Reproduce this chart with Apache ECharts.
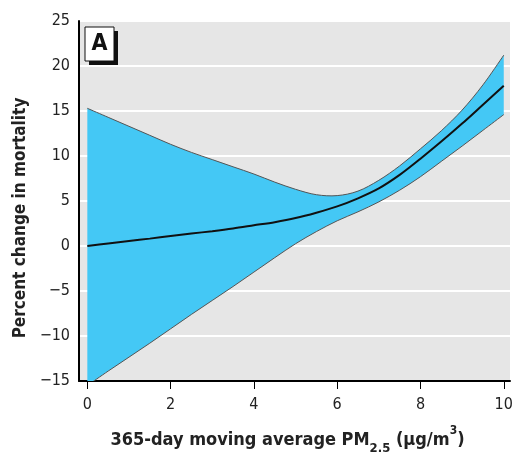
<!DOCTYPE html>
<html>
<head>
<meta charset="utf-8">
<script src="https://cdn.jsdelivr.net/npm/echarts@6/dist/echarts.min.js"></script>
<style>
html,body{margin:0;padding:0;background:#fff;}
#chart{width:514px;height:452px;}
</style>
</head>
<body>
<div id="chart"></div>
<script>
const xValues = [0, 0.5, 1, 1.5, 2, 2.5, 3, 3.5, 4, 4.5, 5, 5.5, 6, 6.5, 7, 7.5, 8, 8.5, 9, 9.5, 10];
const upperCI = [15.3, 14.3, 13.3, 12.3, 11.3, 10.4, 9.6, 8.8, 8.0, 7.1, 6.3, 5.7, 5.6, 6.1, 7.3, 8.9, 10.8, 12.8, 15.1, 17.9, 21.2];
const estimate = [0, 0.28, 0.55, 0.82, 1.1, 1.38, 1.65, 1.95, 2.3, 2.65, 3.1, 3.7, 4.4, 5.3, 6.4, 7.9, 9.7, 11.6, 13.6, 15.7, 17.8];
const lowerCI = [-15.5, -13.9, -12.35, -10.8, -9.2, -7.6, -6.05, -4.5, -2.9, -1.3, 0.25, 1.6, 2.8, 3.8, 4.9, 6.2, 7.7, 9.4, 11.1, 12.85, 14.6];
const xTicks = [0, 2, 4, 6, 8, 10];

const font = '"DejaVu Sans Condensed", "Liberation Sans Narrow", sans-serif';

// Catmull-Rom spline through pixel points -> SVG path segments (after an initial point)
function splineSegs(pts) {
  let d = '';
  for (let i = 0; i < pts.length - 1; i++) {
    const p0 = pts[Math.max(0, i - 1)], p1 = pts[i], p2 = pts[i + 1], p3 = pts[Math.min(pts.length - 1, i + 2)];
    const c1x = p1[0] + (p2[0] - p0[0]) / 6, c1y = p1[1] + (p2[1] - p0[1]) / 6;
    const c2x = p2[0] - (p3[0] - p1[0]) / 6, c2y = p2[1] - (p3[1] - p1[1]) / 6;
    d += ' C' + c1x + ' ' + c1y + ' ' + c2x + ' ' + c2y + ' ' + p2[0] + ' ' + p2[1];
  }
  return d;
}

const bandData = xValues.map((x, i) => [x, lowerCI[i], upperCI[i]]);

function renderBand(params, api) {
  if (params.dataIndex !== 0) return null;
  const up = xValues.map((x, i) => api.coord([x, upperCI[i]]));
  const lo = xValues.map((x, i) => api.coord([x, lowerCI[i]]));
  const loRev = lo.slice().reverse();
  const fillPath = 'M' + up[0][0] + ' ' + up[0][1] + splineSegs(up) +
    ' L' + loRev[0][0] + ' ' + loRev[0][1] + splineSegs(loRev) + ' Z';
  const upPath = 'M' + up[0][0] + ' ' + up[0][1] + splineSegs(up);
  const loPath = 'M' + lo[0][0] + ' ' + lo[0][1] + splineSegs(lo);
  const cs = params.coordSys;
  const clip = {type: 'rect', shape: {x: cs.x, y: cs.y, width: cs.width, height: cs.height}};
  return {
    type: 'group',
    clipPath: clip,
    children: [
      {type: 'path', shape: {pathData: fillPath}, style: {fill: '#44C8F5', stroke: null}},
      {type: 'path', shape: {pathData: upPath}, style: {fill: null, stroke: '#555', lineWidth: 1}},
      {type: 'path', shape: {pathData: loPath}, style: {fill: null, stroke: '#555', lineWidth: 1}}
    ]
  };
}

const chart = echarts.init(document.getElementById('chart'), null, {renderer: 'canvas'});
const option = {
  animation: false,
  backgroundColor: '#ffffff',
  grid: {
    left: 79, right: 4, top: 21, bottom: 71,
    outerBoundsMode: 'none', containLabel: false,
    show: true, backgroundColor: '#E6E6E6', borderWidth: 0
  },
  xAxis: {
    type: 'value',
    min: -0.2, max: 10.15,
    axisLine: {show: true, onZero: false, lineStyle: {color: '#000', width: 2}},
    axisTick: {show: true, length: 8, lineStyle: {color: '#000', width: 1}, customValues: xTicks},
    axisLabel: {customValues: xTicks, color: '#222', fontFamily: font, fontSize: 16, margin: 16},
    splitLine: {show: false},
    name: '{a|365-day moving average PM}{s|2.5}{a| (µg/m}{p|3}{a|)}',
    nameLocation: 'middle',
    nameGap: 44,
    nameTextStyle: {
      padding: [0, 14, 0, 0],
      rich: {
        a: {fontFamily: font, fontWeight: 'bold', fontSize: 18, color: '#222', verticalAlign: 'bottom', lineHeight: 24},
        s: {fontFamily: font, fontWeight: 'bold', fontSize: 13, color: '#222', verticalAlign: 'bottom', padding: [0, 0, -6, 0], lineHeight: 24},
        p: {fontFamily: font, fontWeight: 'bold', fontSize: 12, color: '#222', verticalAlign: 'top', lineHeight: 14}
      }
    }
  },
  yAxis: {
    type: 'value',
    min: -15, max: 25, interval: 5,
    axisLine: {show: true, onZero: false, lineStyle: {color: '#000', width: 2}},
    axisTick: {show: false},
    axisLabel: {
      color: '#222', fontFamily: font, fontSize: 16, margin: 9,
      formatter: v => String(v).replace('-', '\u2212')
    },
    splitLine: {show: true, lineStyle: {color: '#ffffff', width: 2}},
    name: 'Percent change in mortality',
    nameLocation: 'middle',
    nameGap: 47,
    nameTextStyle: {fontFamily: font, fontWeight: 'bold', fontSize: 17, color: '#222', padding: [0, 34, 0, 0]}
  },
  series: [
    {
      name: 'band', type: 'custom', data: bandData, renderItem: renderBand,
      encode: {x: 0, y: [1, 2]}, silent: true, z: 2
    },
    {
      name: 'estimate', type: 'line', data: xValues.map((x, i) => [x, estimate[i]]),
      smooth: 0.3, symbol: 'none', silent: true,
      lineStyle: {color: '#111', width: 2}, z: 4
    }
  ],
  graphic: [
    {type: 'rect', shape: {x: 89, y: 31, width: 29, height: 34}, style: {fill: '#111'}, z: 10},
    {type: 'rect', shape: {x: 85, y: 27, width: 29, height: 34}, style: {fill: '#fff', stroke: '#111', lineWidth: 1}, z: 11},
    {type: 'text', x: 99.5, y: 44.5, style: {text: 'A', fontFamily: font, fontWeight: 'bold', fontSize: 23, fill: '#111', align: 'center', verticalAlign: 'middle'}, z: 12}
  ]
};
chart.setOption(option);
</script>
</body>
</html>
